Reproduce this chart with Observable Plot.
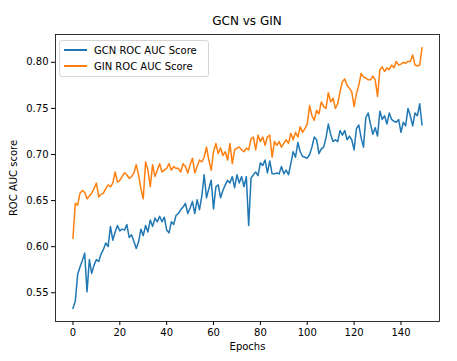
<!DOCTYPE html>
<html><head><meta charset="utf-8">
<script src="https://cdn.jsdelivr.net/npm/d3@7"></script>
<script src="https://cdn.jsdelivr.net/npm/@observablehq/plot@0.6"></script>
<style>
body{margin:0;background:#fff;font-family:"DejaVu Sans",sans-serif;}
#wrap{position:relative;width:457px;height:361px;overflow:hidden;}
#title{height:28px;box-sizing:border-box;padding:14px 18px 0 55px;text-align:center;font-size:12px;font-weight:normal;line-height:14px;color:#000;}
#legend{position:absolute;left:59px;top:40px;width:150px;box-sizing:border-box;padding:1px 0 2px 0;border:1px solid #d6d6d6;border-radius:3px;background:rgba(255,255,255,0.8);font-size:10px;color:#000;}
.row{display:flex;align-items:center;height:16px;}
.sw{display:inline-block;width:23px;height:1.5px;margin:0 7px 0 4px;}
</style>
</head><body>
<div id="wrap">
<div id="title">GCN vs GIN</div>
<div id="chart"></div>
<div id="legend"></div>
</div>
<script>
const seriesNames = ["GCN ROC AUC Score", "GIN ROC AUC Score"];
const seriesColors = ["#1f77b4", "#ff7f0e"];
const xTicks = [0, 20, 40, 60, 80, 100, 120, 140];
const yTicks = [0.55, 0.60, 0.65, 0.70, 0.75, 0.80];

const gcn = [
0.533,0.541,0.570,0.578,0.585,0.593,0.551,0.586,0.571,0.580,
0.586,0.584,0.592,0.597,0.604,0.600,0.622,0.607,0.616,0.623,
0.617,0.619,0.618,0.624,0.610,0.613,0.606,0.598,0.605,0.619,
0.612,0.623,0.616,0.629,0.622,0.631,0.627,0.633,0.627,0.632,
0.618,0.615,0.627,0.624,0.634,0.636,0.640,0.643,0.647,0.636,
0.642,0.649,0.636,0.651,0.640,0.655,0.678,0.653,0.663,0.672,
0.641,0.665,0.667,0.653,0.661,0.667,0.672,0.669,0.676,0.664,
0.678,0.669,0.676,0.665,0.676,0.623,0.674,0.678,0.681,0.677,
0.691,0.688,0.694,0.680,0.693,0.679,0.679,0.680,0.679,0.687,
0.679,0.683,0.678,0.690,0.703,0.697,0.713,0.703,0.698,0.697,
0.696,0.700,0.708,0.719,0.716,0.701,0.706,0.708,0.718,0.733,
0.722,0.714,0.716,0.714,0.726,0.721,0.726,0.716,0.720,0.716,
0.705,0.728,0.732,0.718,0.708,0.740,0.745,0.733,0.722,0.729,
0.720,0.747,0.738,0.742,0.733,0.745,0.738,0.736,0.735,0.738,
0.724,0.735,0.731,0.750,0.742,0.731,0.745,0.742,0.755,0.732
];
const gin = [
0.609,0.647,0.645,0.658,0.661,0.659,0.652,0.655,0.658,0.663,
0.669,0.654,0.657,0.658,0.663,0.667,0.665,0.669,0.681,0.670,
0.672,0.676,0.680,0.678,0.674,0.676,0.680,0.689,0.678,0.663,
0.652,0.692,0.683,0.665,0.689,0.676,0.683,0.690,0.681,0.683,
0.685,0.690,0.683,0.687,0.685,0.685,0.681,0.690,0.687,0.680,
0.689,0.696,0.680,0.687,0.694,0.692,0.697,0.708,0.694,0.683,
0.703,0.712,0.701,0.707,0.699,0.703,0.694,0.712,0.690,0.705,
0.707,0.708,0.705,0.703,0.707,0.705,0.717,0.719,0.705,0.721,
0.714,0.719,0.710,0.719,0.721,0.697,0.714,0.710,0.714,0.708,
0.712,0.716,0.712,0.723,0.716,0.724,0.719,0.730,0.724,0.728,
0.733,0.753,0.742,0.737,0.748,0.744,0.757,0.752,0.750,0.767,
0.757,0.761,0.750,0.755,0.768,0.779,0.782,0.775,0.772,0.768,
0.752,0.766,0.775,0.788,0.784,0.783,0.781,0.781,0.785,0.781,
0.763,0.792,0.795,0.790,0.794,0.792,0.797,0.794,0.801,0.797,
0.798,0.800,0.799,0.801,0.801,0.808,0.797,0.796,0.797,0.816
];

const rows = [];
[gcn, gin].forEach((vals, k) => vals.forEach((v, i) => rows.push({epoch: i, score: v, model: seriesNames[k]})));

const xMax = gcn.length - 1;
const xPad = xMax * 0.05;
const allY = gcn.concat(gin);
const yMin = d3.min(allY), yMax = d3.max(allY);
const yPad = (yMax - yMin) * 0.05;

const chart = Plot.plot({
  width: 457,
  height: 333,
  marginLeft: 55,
  marginRight: 18,
  marginTop: 6,
  marginBottom: 40,
  style: {fontFamily: "DejaVu Sans, sans-serif", fontSize: "10px", color: "#000", background: "#fff"},
  x: {domain: [-xPad, xMax + xPad]},
  y: {domain: [yMin - yPad, yMax + yPad]},
  color: {domain: seriesNames, range: seriesColors},
  marks: [
    Plot.axisX({ticks: xTicks, tickFormat: d => String(d), tickSize: 4, tickPadding: 3, label: "Epochs", labelAnchor: "center", labelArrow: "none", labelOffset: 28}),
    Plot.axisY({ticks: yTicks, tickFormat: d3.format(".2f"), tickSize: 4, tickPadding: 3, label: "ROC AUC score", labelAnchor: "center", labelArrow: "none", labelOffset: 46}),
    Plot.line(rows, {x: "epoch", y: "score", z: "model", stroke: "model", strokeWidth: 1.5}),
    Plot.frame({stroke: "#000", strokeWidth: 0.8})
  ]
});
document.getElementById("chart").appendChild(chart);

const legend = document.getElementById("legend");
seriesNames.forEach((name, k) => {
  const row = document.createElement("div");
  row.className = "row";
  const sw = document.createElement("span");
  sw.className = "sw";
  sw.style.background = seriesColors[k];
  const t = document.createElement("span");
  t.textContent = name;
  row.appendChild(sw); row.appendChild(t);
  legend.appendChild(row);
});
</script>
</body></html>
